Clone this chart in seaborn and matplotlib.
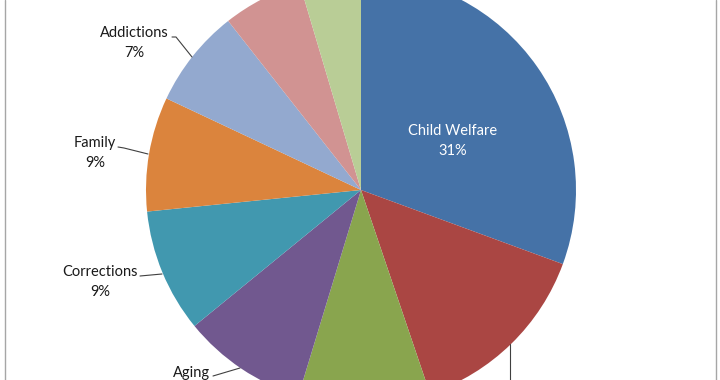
import matplotlib
matplotlib.use("Agg")
import matplotlib.pyplot as plt
import seaborn as sns
from matplotlib.lines import Line2D

# Slice shares (percent), clockwise from 12 o'clock
categories = ["Child Welfare", "Mental Health", "Health", "Aging", "Corrections",
              "Family", "Addictions", "Disabilities", "Other"]
shares = [30.6, 14.2, 9.9, 9.4, 9.3, 8.6, 7.4, 6.0, 4.6]
colors = ["#4572A7", "#AA4643", "#89A54E", "#71588F", "#4198AF",
          "#DB843D", "#93A9CF", "#D19392", "#B9CD96"]

sns.set_theme(style="white")
plt.rcParams["font.family"] = ["Lato", "DejaVu Sans"]

W, H = 720, 380
cx, cy, r = 361, 190, 215   # pie centre / radius in pixels

fig = plt.figure(figsize=(7.2, 3.8), dpi=100)
ax = fig.add_axes([0, 0, 1, 1])

ax.pie(shares, colors=colors, startangle=90, counterclock=False,
       radius=1, wedgeprops=dict(linewidth=0))
ax.set_xlim(-cx / r, (W - cx) / r)
ax.set_ylim((cy - H) / r, cy / r)
ax.axis("off")


def px(x, y):
    return (x - cx) / r, (cy - y) / r


txt = "#1a1a1a"
# label inside the big slice
x, y = px(453, 141)
ax.text(x, y, f"{categories[0]}\n{round(shares[0])}%", color="white",
        ha="center", va="center", fontsize=10.5, linespacing=1.6)

# outside labels: (index, text centre, leader points)
outside = [
    (6, (134, 43), [(172, 37), (176, 37), (192, 57)]),
    (5, (95, 153), [(118, 147), (124, 148), (148, 154)]),
    (4, (100, 282), [(140, 276), (162, 274)]),
]
for i, (tx, ty), pts in outside:
    x, y = px(tx, ty)
    ax.text(x, y, f"{categories[i]}\n{round(shares[i])}%", color=txt,
            ha="center", va="center", fontsize=10.5, linespacing=1.6)
    xs, ys = zip(*[px(a, b) for a, b in pts])
    ax.plot(xs, ys, color="#404040", lw=0.8)

# Aging label sits on the lower edge of the frame
x, y = px(192, 380)
ax.text(x, y, categories[3], color=txt, ha="center", va="bottom", fontsize=10.5)
xs, ys = zip(*[px(213, 376), px(240, 368)])
ax.plot(xs, ys, color="#404040", lw=0.8)

# leader of the slice whose label lies below the frame
xs, ys = zip(*[px(510, 344), px(510, 400)])
ax.plot(xs, ys, color="#404040", lw=0.8)

# chart frame edges
for fx in (5 / W, 716 / W):
    fig.add_artist(Line2D([fx, fx], [0, 1], color="#a6a6a6", lw=1))

fig.savefig("out.png", dpi=100)
